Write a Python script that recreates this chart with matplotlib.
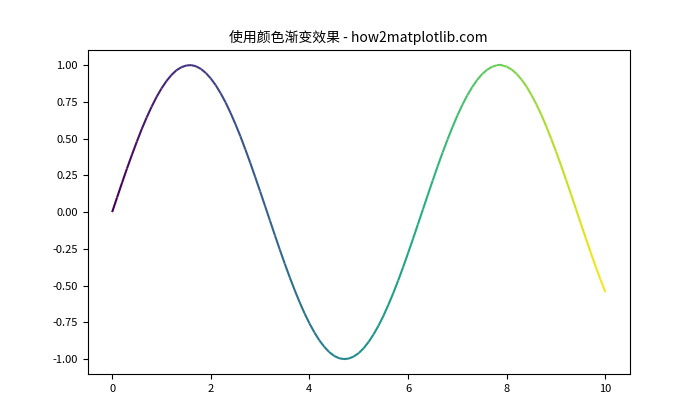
import numpy as np
import matplotlib
matplotlib.use("Agg")
import matplotlib.pyplot as plt
from matplotlib.collections import LineCollection

plt.rcParams['font.family'] = ['Noto Sans CJK SC', 'DejaVu Sans']
plt.rcParams['axes.unicode_minus'] = False

# values
x = [0.0, 0.1, 0.2, 0.3, 0.4, 0.5, 0.6, 0.7, 0.8, 0.9,
     1.0, 1.1, 1.2, 1.3, 1.4, 1.5, 1.6, 1.7, 1.8, 1.9,
     2.0, 2.1, 2.2, 2.3, 2.4, 2.5, 2.6, 2.7, 2.8, 2.9,
     3.0, 3.1, 3.2, 3.3, 3.4, 3.5, 3.6, 3.7, 3.8, 3.9,
     4.0, 4.1, 4.2, 4.3, 4.4, 4.5, 4.6, 4.7, 4.8, 4.9,
     5.0, 5.1, 5.2, 5.3, 5.4, 5.5, 5.6, 5.7, 5.8, 5.9,
     6.0, 6.1, 6.2, 6.3, 6.4, 6.5, 6.6, 6.7, 6.8, 6.9,
     7.0, 7.1, 7.2, 7.3, 7.4, 7.5, 7.6, 7.7, 7.8, 7.9,
     8.0, 8.1, 8.2, 8.3, 8.4, 8.5, 8.6, 8.7, 8.8, 8.9,
     9.0, 9.1, 9.2, 9.3, 9.4, 9.5, 9.6, 9.7, 9.8, 9.9, 10.0]
y = [0.000, 0.100, 0.199, 0.296, 0.389, 0.479, 0.565, 0.644, 0.717, 0.783,
     0.841, 0.891, 0.932, 0.964, 0.985, 0.997, 1.000, 0.992, 0.974, 0.946,
     0.909, 0.863, 0.808, 0.746, 0.675, 0.598, 0.516, 0.427, 0.335, 0.239,
     0.141, 0.042, -0.058, -0.158, -0.256, -0.351, -0.443, -0.530, -0.612, -0.688,
     -0.757, -0.818, -0.872, -0.916, -0.952, -0.978, -0.994, -1.000, -0.996, -0.982,
     -0.959, -0.926, -0.883, -0.832, -0.773, -0.706, -0.631, -0.551, -0.465, -0.374,
     -0.279, -0.182, -0.083, 0.017, 0.117, 0.215, 0.312, 0.405, 0.494, 0.578,
     0.657, 0.729, 0.794, 0.850, 0.899, 0.938, 0.968, 0.988, 0.999, 0.999,
     0.989, 0.970, 0.941, 0.902, 0.855, 0.798, 0.734, 0.664, 0.585, 0.501,
     0.412, 0.319, 0.223, 0.125, 0.025, -0.075, -0.174, -0.272, -0.367, -0.458, -0.544]
title = '使用颜色渐变效果 - how2matplotlib.com'

fig, ax = plt.subplots(figsize=(7, 4.2), dpi=100)

pts = np.array([x, y]).T.reshape(-1, 1, 2)
segs = np.concatenate([pts[:-1], pts[1:]], axis=1)
xs = np.array(x)
lc = LineCollection(segs, cmap='viridis', norm=plt.Normalize(xs.min(), xs.max()))
lc.set_array(xs[:-1])
lc.set_linewidth(1.5)
lc.set_joinstyle('round')
ax.add_collection(lc)
ax.autoscale()

ax.set_title(title, fontsize=10)
ax.tick_params(labelsize=8)
ax.yaxis.set_major_formatter(matplotlib.ticker.FormatStrFormatter('%.2f'))

fig.savefig('out.png')
